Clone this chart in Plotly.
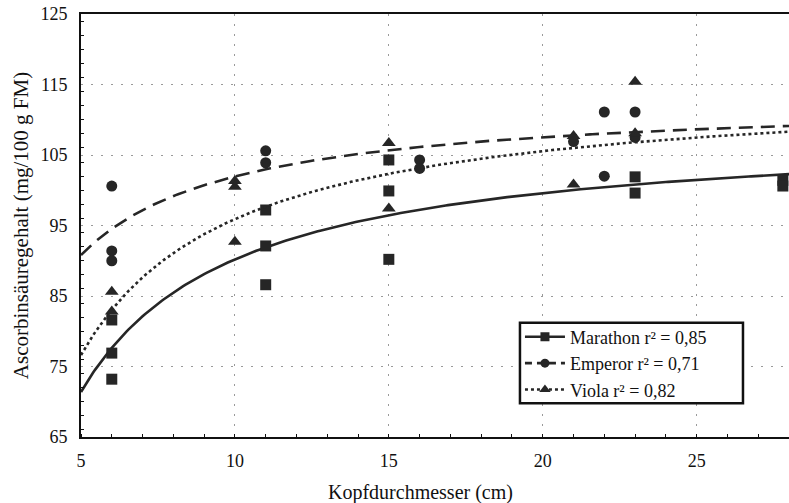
import numpy as np
import plotly.graph_objects as go

# Head diameter (cm) and ascorbic acid content (mg/100 g FM) per cultivar
marathon_x = [6, 6, 6, 11, 11, 11, 15, 15, 15, 23, 23, 27.8, 27.8]
marathon_y = [81.6, 76.9, 73.2, 97.2, 92.1, 86.6, 104.3, 99.9, 90.2, 101.9, 99.6, 101.4, 100.6]

emperor_x = [6, 6, 6, 11, 11, 16, 16, 21, 22, 22, 23, 23]
emperor_y = [100.6, 91.4, 90.0, 105.6, 103.9, 104.3, 103.1, 106.9, 111.1, 102.0, 111.1, 107.5]

viola_x = [6, 6, 10, 10, 10, 15, 15, 21, 21, 23, 23]
viola_y = [85.6, 82.8, 101.3, 100.5, 92.7, 106.7, 97.4, 107.7, 100.8, 115.4, 108.1]

# Regression curves y = a + b / x
fit_a = {"Marathon": 109.0, "Emperor": 113.1, "Viola": 115.2}
fit_b = {"Marathon": -188.1, "Emperor": -111.4, "Viola": -192.9}
r2_labels = {"Marathon": "0,85", "Emperor": "0,71", "Viola": "0,82"}

x_ticks = [5, 10, 15, 20, 25]
y_ticks = [65, 75, 85, 95, 105, 115, 125]

INK = "#262626"
TEXT = "#111111"
FONT = "Liberation Serif"

series = [
    ("Marathon", marathon_x, marathon_y, "square", 11, "solid", "solid"),
    ("Emperor", emperor_x, emperor_y, "circle", 11, "14px,8px", "7px,5px"),
    ("Viola", viola_x, viola_y, "triangle-up", 12, "dot", "dot"),
]

fig = go.Figure()
xs = np.linspace(5, 28, 300)
for name, px, py, sym, size, dash, legend_dash in series:
    ys = fit_a[name] + fit_b[name] / xs
    fig.add_trace(go.Scatter(
        x=xs, y=ys, mode="lines", showlegend=False,
        line=dict(color=INK, width=2.6, dash=dash),
    ))
    fig.add_trace(go.Scatter(
        x=px, y=py, mode="markers", showlegend=False,
        marker=dict(symbol=sym, size=size, color=INK),
    ))
    # legend entry: line sample with marker
    fig.add_trace(go.Scatter(
        x=[None], y=[None], mode="lines+markers",
        name=f"{name} r\u00b2 = {r2_labels[name]}",
        line=dict(color=INK, width=2.6, dash=legend_dash),
        marker=dict(symbol=sym, size=size - 2, color=INK),
    ))

# Legend frame (drawn as a shape so it can be wider than the entries)
legend_box = dict(
    type="rect", xref="paper", yref="paper",
    x0=0.620, x1=0.935, y0=0.080, y1=0.270,
    line=dict(color=TEXT, width=2.5), fillcolor="white", layer="above",
)

fig.update_layout(
    width=789, height=503,
    margin=dict(l=81, r=0, t=14, b=66),
    paper_bgcolor="white", plot_bgcolor="white",
    font=dict(family=FONT, size=17, color=TEXT),
    shapes=[legend_box],
    legend=dict(
        x=0.62, y=0.28, xanchor="left", yanchor="top",
        borderwidth=0, bgcolor="rgba(0,0,0,0)",
        font=dict(family=FONT, size=18, color=TEXT),
        itemwidth=40, tracegroupgap=0,
    ),
    annotations=[dict(
        text="Kopfdurchmesser (cm)", xref="paper", yref="paper",
        x=(420 - 81) / 708, y=-0.132, xanchor="center", yanchor="middle",
        showarrow=False, font=dict(family=FONT, size=20, color=TEXT),
    )],
)

GRID = dict(showgrid=True, gridcolor="#9a9a9a", griddash="2px,8px", gridwidth=1)

fig.update_xaxes(
    range=[5, 28], tickvals=x_ticks, **GRID,
    showline=True, linecolor=TEXT, linewidth=2, mirror=True,
    ticks="", zeroline=False, ticklabelstandoff=6,
    tickfont=dict(size=18),
    minor=dict(dtick=1, ticks="inside", ticklen=3, tickcolor=TEXT, showgrid=False),
)
fig.update_yaxes(
    range=[65, 125], tickvals=y_ticks, **GRID,
    showline=True, linecolor=TEXT, linewidth=2,
    ticks="", zeroline=False, ticklabelstandoff=8,
    tickfont=dict(size=18),
    minor=dict(dtick=2, ticks="inside", ticklen=3, tickcolor=TEXT, showgrid=False),
    title=dict(text="Ascorbinsäuregehalt (mg/100 g FM)", standoff=6, font=dict(size=21)),
)

fig.write_html("out.html")
